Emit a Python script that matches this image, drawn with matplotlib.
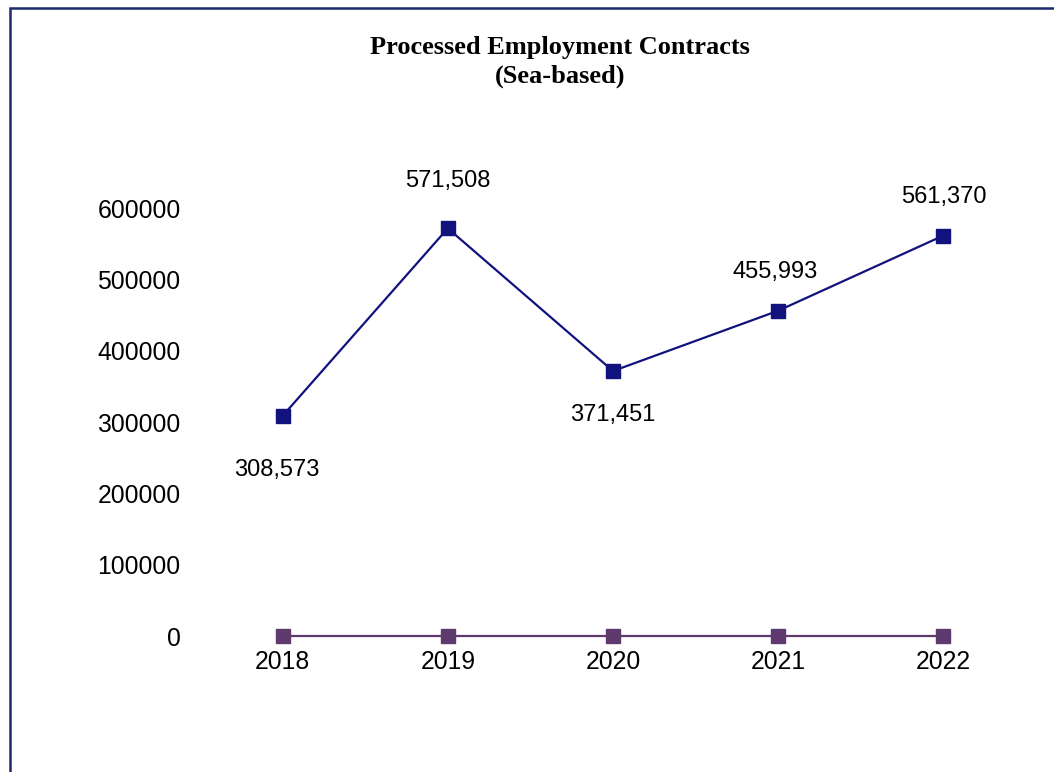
import matplotlib
matplotlib.use("Agg")
import matplotlib.pyplot as plt
from matplotlib.patches import Rectangle

years = ["2018", "2019", "2020", "2021", "2022"]
sea_based = [308573, 571508, 371451, 455993, 561370]
second_series = [0, 0, 0, 0, 0]
y_ticks = [0, 100000, 200000, 300000, 400000, 500000, 600000]

label_offsets = [(-4, -39), (0, 34), (0, -32), (-2, 28), (0, 28)]

W, H = 1054, 772
fig = plt.figure(figsize=(W / 100, H / 100), dpi=100)
ax = fig.add_axes([200 / W, 1 - 636 / H, 826 / W, (636 - 208) / H])

x = list(range(len(years)))
ax.plot(x, second_series, color="#5E3A6E", lw=1.6, marker="s", ms=10.5,
        markeredgecolor="#5E3A6E", clip_on=False, zorder=3)
ax.plot(x, sea_based, color="#12127E", lw=1.6, marker="s", ms=10.5,
        markeredgecolor="#12127E", clip_on=False, zorder=4)

for xi, v, off in zip(x, sea_based, label_offsets):
    ax.annotate(f"{v:,}", (xi, v), xytext=off, textcoords="offset points",
                ha="center", va="center", fontsize=17, family="Liberation Sans",
                color="black")

ax.set_xlim(-0.5, 4.5)
ax.set_ylim(0, 600000)
ax.set_xticks(x)
ax.set_xticklabels(years)
ax.set_yticks(y_ticks)
ax.set_yticklabels([str(t) for t in y_ticks])
for lab in ax.get_xticklabels() + ax.get_yticklabels():
    lab.set_family("Liberation Sans")
    lab.set_fontsize(17.8)
ax.tick_params(axis="x", length=0, pad=10)
ax.tick_params(axis="y", length=0, pad=14)
for s in ax.spines.values():
    s.set_visible(False)

fig.text(560 / W, 1 - 62 / H, "Processed Employment Contracts\n(Sea-based)",
         ha="center", va="center", fontsize=19, fontweight="bold",
         family="Liberation Serif", linespacing=1.35)

fig.patches.append(Rectangle((10 / W, -0.05), 1.1, 1 - 8 / H + 0.05,
                             transform=fig.transFigure, fill=False,
                             edgecolor="#1B2A6B", lw=1.8))

fig.savefig("out.png", dpi=100)
